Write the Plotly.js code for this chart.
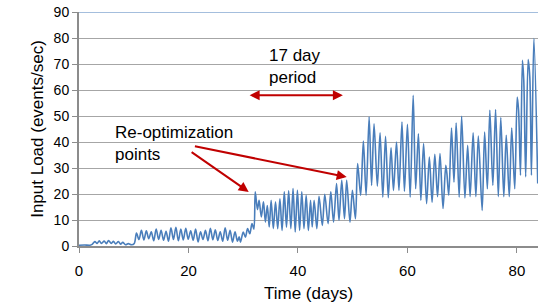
<!DOCTYPE html>
<html>
<head>
<meta charset="utf-8">
<script src="https://cdn.plot.ly/plotly-3.0.1.min.js"></script>
<style>html,body{margin:0;padding:0;background:#fff;}#chart{width:538px;height:308px;}</style>
</head>
<body>
<div id="chart"></div>
<script>
// Segment 1: days 0-10 (very low load)
const seg1Days = [0, 1, 2, 2.4, 2.9, 3.3, 3.7, 4.1, 4.6, 5.0, 5.4, 5.9, 6.3, 6.7, 7.2, 7.6, 8.0, 8.5, 9.0, 9.6, 10.1];
const seg1Load = [0.3, 0.4, 0.3, 0.6, 1.7, 1.0, 2.0, 1.0, 1.9, 0.9, 2.1, 1.0, 1.8, 0.8, 1.7, 0.7, 1.4, 0.5, 0.9, 0.5, 1.0];

// Segment 2: days 10.5-32
const seg2Days = [10.5, 10.95, 11.4, 11.85, 12.3, 12.75, 13.2, 13.65, 14.1, 14.55, 15.0, 15.45, 15.9, 16.35, 16.8, 17.25, 17.7, 18.15, 18.6, 19.05, 19.5, 19.95, 20.4, 20.85, 21.3, 21.75, 22.2, 22.65, 23.1, 23.55, 24.0, 24.45, 24.9, 25.35, 25.8, 26.25, 26.7, 27.15, 27.6, 28.05, 28.5, 28.95, 29.25, 29.5, 30.0, 30.4, 30.8, 31.2, 31.6, 31.95];
const seg2Load = [5.0, 2.5, 6.0, 2.3, 5.8, 2.8, 5.5, 2.0, 6.5, 2.5, 6.0, 2.2, 5.7, 1.8, 7.0, 2.5, 7.2, 2.0, 6.5, 2.3, 6.8, 2.6, 5.8, 2.2, 6.5, 1.6, 5.5, 2.5, 6.0, 2.0, 6.8, 2.4, 6.2, 2.1, 5.5, 1.8, 7.0, 2.2, 6.0, 1.5, 5.5, 1.8, 3.5, 1.5, 5.4, 3.4, 6.7, 4.7, 8.6, 6.5];

// Segment 3: after first re-optimization (days 32-50.5)
const seg3Days = [32.2, 32.6, 32.9, 33.3, 33.7, 34.05, 34.4, 34.75, 35.1, 35.5, 35.9, 36.3, 36.7, 37.1, 37.5, 37.9, 38.3, 38.7, 39.1, 39.5, 39.9, 40.3, 40.7, 41.1, 41.5, 41.9, 42.3, 42.6, 42.95, 43.45, 43.85, 44.45, 44.9, 45.5, 46.0, 46.5, 47.05, 47.5, 48.0, 48.5, 48.9, 49.5, 49.95, 50.5];
const seg3Load = [20.8, 14.0, 17.6, 11.2, 17.0, 9.2, 15.6, 7.3, 17.6, 6.7, 17.0, 6.7, 18.2, 6.0, 20.8, 7.3, 21.2, 6.7, 22.1, 5.4, 21.4, 6.0, 20.8, 6.7, 19.5, 6.0, 17.6, 7.3, 17.6, 6.7, 19.1, 7.9, 19.9, 8.6, 20.8, 9.2, 24.0, 9.9, 25.3, 10.5, 25.3, 9.2, 21.4, 10.5];

// Segment 4: after second re-optimization (days 50.9-83.8)
const seg4Days = [50.9, 51.45, 51.95, 52.45, 53.0, 53.45, 53.9, 54.5, 55.0, 55.5, 56.0, 56.5, 57.0, 57.45, 58.0, 58.45, 59.0, 59.45, 60.0, 60.5, 61.05, 61.5, 62.0, 62.45, 62.95, 63.5, 64.0, 64.5, 65.0, 65.5, 65.95, 66.5, 67.0, 67.2, 67.55, 68.05, 68.5, 68.9, 69.45, 69.9, 70.5, 71.0, 71.45, 72.0, 72.5, 72.95, 73.65, 74.1, 74.6, 75.05, 75.6, 76.1, 76.6, 77.05, 77.6, 78.05, 78.6, 79.05, 79.6, 80.05, 80.3, 80.65, 81.0, 81.25, 81.6, 82.05, 82.35, 82.65, 83.1, 83.8];
const seg4Load = [31.7, 19.5, 40.4, 19.5, 49.6, 23.3, 47.0, 23.0, 43.5, 18.8, 42.2, 18.6, 37.8, 21.4, 40.0, 21.4, 47.7, 21.0, 46.8, 18.8, 58.0, 22.0, 43.2, 17.6, 39.4, 16.3, 34.2, 16.8, 35.3, 19.0, 35.6, 14.4, 31.0, 28.0, 19.5, 45.4, 24.6, 47.3, 18.8, 49.9, 18.5, 38.7, 19.0, 43.5, 19.0, 42.3, 13.7, 43.8, 22.0, 52.2, 23.3, 52.5, 19.0, 49.4, 19.0, 42.6, 19.0, 45.4, 22.0, 57.3, 52.2, 27.2, 71.4, 63.7, 26.6, 71.7, 65.0, 27.2, 79.8, 24.0];

const days = [].concat(seg1Days, seg2Days, seg3Days, seg4Days);
const load = [].concat(seg1Load, seg2Load, seg3Load, seg4Load);

const xTicks = [0, 20, 40, 60, 80];
const yTicks = [0, 10, 20, 30, 40, 50, 60, 70, 80, 90];

const FONT = 'Liberation Sans, Arial, sans-serif';
const RED = '#c00000';
const BLUE = '#4a7ebb';
const GRAY = '#8c8c8c';

const trace = {
  x: days, y: load, type: 'scatter', mode: 'lines',
  line: {color: BLUE, width: 1.6, shape: 'spline', smoothing: 0.9},
  hoverinfo: 'skip'
};

const layout = {
  width: 538, height: 308,
  margin: {l: 79, r: 0, t: 12, b: 62},
  paper_bgcolor: '#fff', plot_bgcolor: '#fff',
  showlegend: false,
  font: {family: FONT, color: '#000'},
  xaxis: {
    range: [0, 83.85], tickvals: xTicks, ticktext: xTicks.map(String),
    ticks: 'outside', ticklen: 5, tickcolor: GRAY, tickwidth: 1,
    ticklabelstandoff: 5,
    showline: true, linecolor: GRAY, linewidth: 2,
    showgrid: false, zeroline: false,
    tickfont: {size: 15, family: FONT, color: '#000'},
    title: {text: 'Time (days)', font: {size: 17, family: FONT, color: '#000'}, standoff: 9}
  },
  yaxis: {
    range: [0, 90], tickvals: yTicks, ticktext: yTicks.map(String),
    ticks: 'outside', ticklen: 5, tickcolor: GRAY, tickwidth: 1,
    showline: true, linecolor: GRAY, linewidth: 2,
    showgrid: true, gridcolor: '#a6a6a6', gridwidth: 1, zeroline: false,
    tickfont: {size: 14, family: FONT, color: '#000'},
    title: {text: 'Input Load (events/sec)', font: {size: 17, family: FONT, color: '#000'}, standoff: 6}
  },
  shapes: [
    {type: 'line', xref: 'paper', yref: 'y', x0: 0, x1: 1, y0: 90, y1: 90, line: {color: BLUE, width: 1.2}}
  ],
  annotations: [
    {x: 39.5, y: 68.9, xref: 'x', yref: 'y', text: '17 day<br>period', showarrow: false,
     font: {size: 17, family: FONT, color: '#000'}, align: 'left'},
    {x: 48.2, y: 58, ax: 30.9, ay: 58, xref: 'x', yref: 'y', axref: 'x', ayref: 'y', text: '',
     showarrow: true, arrowhead: 2, startarrowhead: 2, arrowside: 'end+start', arrowsize: 1, arrowwidth: 2, arrowcolor: RED},
    {x: 6.3, y: 39.5, xref: 'x', yref: 'y', text: 'Re-optimization<br>points', showarrow: false,
     xanchor: 'left', align: 'left', font: {size: 17, family: FONT, color: '#000'}},
    {x: 31.0, y: 20.8, ax: 20.3, ay: 36.5, xref: 'x', yref: 'y', axref: 'x', ayref: 'y', text: '',
     showarrow: true, arrowhead: 2, arrowsize: 1, arrowwidth: 2, arrowcolor: RED},
    {x: 48.9, y: 26.5, ax: 20.9, ay: 38.5, xref: 'x', yref: 'y', axref: 'x', ayref: 'y', text: '',
     showarrow: true, arrowhead: 2, arrowsize: 1, arrowwidth: 2, arrowcolor: RED}
  ]
};

Plotly.newPlot('chart', [trace], layout, {staticPlot: true, displayModeBar: false});
</script>
</body>
</html>
